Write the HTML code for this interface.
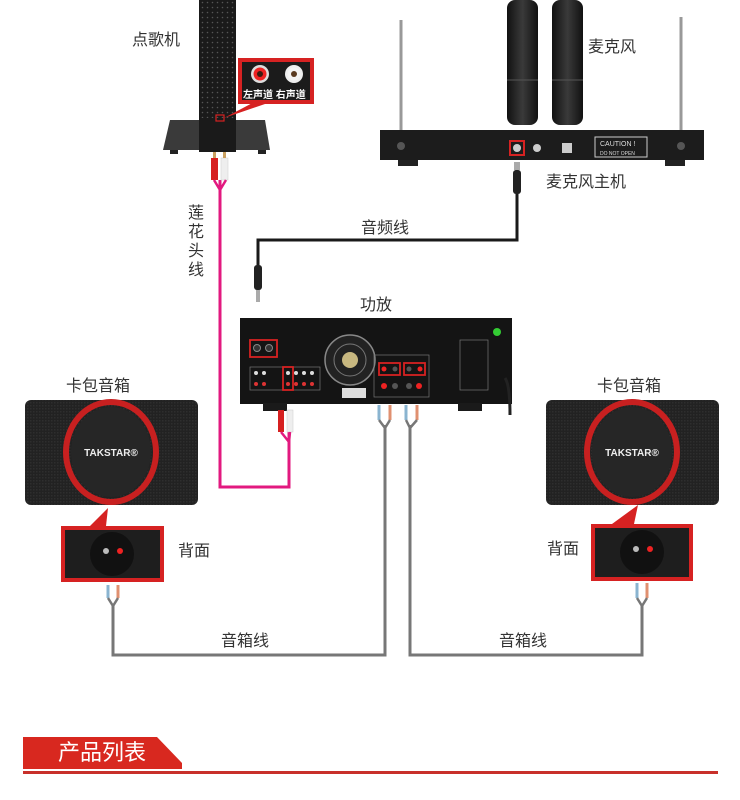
<!DOCTYPE html>
<html><head><meta charset="utf-8"><style>
html,body{margin:0;padding:0;background:#fff;}
svg{display:block;}
text{font-family:"Liberation Sans","Noto Sans CJK SC",sans-serif;}
</style></head><body>
<svg width="740" height="800" viewBox="0 0 740 800" xmlns="http://www.w3.org/2000/svg">
<defs>
<pattern id="dots" width="5" height="5" patternUnits="userSpaceOnUse"><rect width="5" height="5" fill="#1a1a1a"/><circle cx="2.5" cy="2.5" r="0.8" fill="#555"/></pattern>
<pattern id="mesh" width="3" height="3" patternUnits="userSpaceOnUse"><rect width="3" height="3" fill="#222"/><rect width="1.5" height="1.5" fill="#2e2e2e"/></pattern>
<linearGradient id="mic" x1="0" x2="1"><stop offset="0" stop-color="#111"/><stop offset="0.5" stop-color="#3a3a3a"/><stop offset="1" stop-color="#111"/></linearGradient>
</defs>

<!-- karaoke tower -->
<text x="132" y="45" font-size="16" fill="#333">点歌机</text>
<rect x="199" y="0" width="37" height="150" fill="url(#dots)"/>
<polygon points="170,120 265,120 270,150 163,150" fill="#3a3a3a"/>
<rect x="199" y="118" width="37" height="34" fill="#1a1a1a"/>
<rect x="170" y="150" width="8" height="4" fill="#222"/><rect x="258" y="150" width="8" height="4" fill="#222"/>
<rect x="216" y="115" width="8" height="6" fill="none" stroke="#d62222" stroke-width="1.2"/>
<polygon points="224,118 258,100 265,104" fill="#d62222"/>
<rect x="238" y="58" width="76" height="46" fill="#d62222"/>
<rect x="242" y="62" width="68" height="38" fill="#1b1b1b"/>
<circle cx="260" cy="74" r="9" fill="#ddd"/><circle cx="260" cy="74" r="6.5" fill="#e22"/><circle cx="260" cy="74" r="3" fill="#3a1a10"/>
<circle cx="294" cy="74" r="9" fill="#eee"/><circle cx="294" cy="74" r="6.5" fill="#f4f4f4"/><circle cx="294" cy="74" r="3" fill="#5a3a20"/>
<text x="243" y="98" font-size="10" fill="#fff" font-weight="bold">左声道 右声道</text>

<!-- pink cable -->
<polyline points="220,180 220,487 289,487 289,420" fill="none" stroke="#e2197f" stroke-width="3"/>
<rect x="211" y="158" width="7" height="22" fill="#d62020"/><rect x="221" y="158" width="7" height="22" fill="#eee" stroke="#ccc" stroke-width="0.5"/>
<rect x="213" y="152" width="3" height="6" fill="#c9a060"/><rect x="223" y="152" width="3" height="6" fill="#c9a060"/>
<path d="M214,180 L220,190 L226,180" fill="none" stroke="#e2197f" stroke-width="2.5"/>
<text font-size="16" fill="#333"><tspan x="188" y="218">莲</tspan><tspan x="188" y="237">花</tspan><tspan x="188" y="256">头</tspan><tspan x="188" y="275">线</tspan></text>

<!-- microphones -->
<rect x="507" y="0" width="31" height="125" rx="8" fill="url(#mic)"/>
<rect x="552" y="0" width="31" height="125" rx="8" fill="url(#mic)"/>
<line x1="507" y1="80" x2="538" y2="80" stroke="#555"/><line x1="552" y1="80" x2="583" y2="80" stroke="#555"/>
<text x="588" y="52" font-size="16" fill="#333">麦克风</text>
<!-- receiver -->
<line x1="401" y1="20" x2="401" y2="145" stroke="#999" stroke-width="3"/>
<line x1="681" y1="17" x2="681" y2="145" stroke="#999" stroke-width="3"/>
<rect x="380" y="130" width="324" height="30" fill="#1c1c1c"/>
<rect x="398" y="160" width="20" height="6" fill="#222"/><rect x="665" y="160" width="20" height="6" fill="#222"/>
<circle cx="401" cy="146" r="4" fill="#555"/><circle cx="681" cy="146" r="4" fill="#555"/>
<rect x="510" y="141" width="14" height="14" fill="none" stroke="#d62222" stroke-width="2"/>
<circle cx="517" cy="148" r="4" fill="#ccc"/><circle cx="537" cy="148" r="4" fill="#ccc"/>
<rect x="562" y="143" width="10" height="10" fill="#ccc"/>
<rect x="595" y="137" width="52" height="20" fill="none" stroke="#ccc" stroke-width="1"/>
<text x="600" y="146" font-size="7" fill="#ddd">CAUTION !</text>
<text x="600" y="155" font-size="5" fill="#ddd">DO NOT OPEN</text>
<text x="546" y="187" font-size="16" fill="#333">麦克风主机</text>

<!-- audio cable -->
<polyline points="517,165 517,240 258,240 258,295" fill="none" stroke="#1a1a1a" stroke-width="3"/>
<rect x="514" y="162" width="6" height="8" fill="#aaa"/><rect x="513" y="170" width="8" height="24" rx="3" fill="#222"/>
<rect x="254" y="265" width="8" height="25" rx="3" fill="#222"/><rect x="256" y="290" width="4" height="12" fill="#aaa"/>
<text x="361" y="233" font-size="16" fill="#333">音频线</text>

<!-- amplifier -->
<text x="360" y="310" font-size="16" fill="#333">功放</text>
<rect x="240" y="318" width="272" height="86" fill="#141414"/>
<rect x="263" y="403" width="24" height="8" fill="#1a1a1a"/><rect x="458" y="403" width="24" height="8" fill="#1a1a1a"/>
<rect x="250" y="340" width="27" height="17" fill="none" stroke="#d62222" stroke-width="1.8"/>
<circle cx="257" cy="348" r="3.5" fill="#333" stroke="#888"/><circle cx="269" cy="348" r="3.5" fill="#333" stroke="#888"/>
<rect x="250" y="367" width="70" height="23" fill="none" stroke="#777" stroke-width="0.7"/>
<g fill="#ddd"><circle cx="256" cy="373" r="2"/><circle cx="264" cy="373" r="2"/><circle cx="288" cy="373" r="2"/><circle cx="296" cy="373" r="2"/><circle cx="304" cy="373" r="2"/><circle cx="312" cy="373" r="2"/></g>
<g fill="#d33"><circle cx="256" cy="384" r="2"/><circle cx="264" cy="384" r="2"/><circle cx="288" cy="384" r="2"/><circle cx="296" cy="384" r="2"/><circle cx="304" cy="384" r="2"/><circle cx="312" cy="384" r="2"/></g>
<rect x="283" y="367" width="10" height="23" fill="none" stroke="#d62222" stroke-width="1.8"/>
<circle cx="350" cy="360" r="25" fill="#222" stroke="#888" stroke-width="1.5"/>
<circle cx="350" cy="360" r="16" fill="none" stroke="#777"/><circle cx="350" cy="360" r="8" fill="#c8b880"/>
<rect x="374" y="355" width="55" height="42" fill="none" stroke="#777" stroke-width="0.7"/>
<rect x="379" y="363" width="21" height="12" fill="none" stroke="#d62222" stroke-width="1.8"/>
<rect x="404" y="363" width="21" height="12" fill="none" stroke="#d62222" stroke-width="1.8"/>
<g fill="#e22"><circle cx="384" cy="369" r="2.5"/><circle cx="420" cy="369" r="2.5"/><circle cx="384" cy="386" r="3"/><circle cx="419" cy="386" r="3"/></g>
<g fill="#555"><circle cx="395" cy="369" r="2.5"/><circle cx="409" cy="369" r="2.5"/><circle cx="395" cy="386" r="3"/><circle cx="409" cy="386" r="3"/></g>
<rect x="342" y="388" width="24" height="10" fill="#ddd"/>
<rect x="460" y="340" width="28" height="50" fill="none" stroke="#777" stroke-width="0.7"/>
<circle cx="497" cy="332" r="4" fill="#3c3"/>
<path d="M505,378 Q510,385 510,415" fill="none" stroke="#222" stroke-width="3"/>
<!-- amp RCA plugs -->
<rect x="278" y="410" width="6" height="22" fill="#d62020"/><rect x="287" y="410" width="6" height="22" fill="#eee" stroke="#ccc" stroke-width="0.5"/>
<path d="M281,432 L289,442 L290,432" fill="none" stroke="#e2197f" stroke-width="2.5"/>

<!-- speaker wires -->
<g fill="none" stroke="#777" stroke-width="3">
<polyline points="113,605 113,655 385,655 385,425"/>
<polyline points="410,425 410,655 642,655 642,605"/>
</g>
<g stroke-width="3">
<line x1="379" y1="405" x2="379" y2="420" stroke="#8ab4d0"/><line x1="390" y1="405" x2="390" y2="420" stroke="#e09070"/>
<line x1="406" y1="405" x2="406" y2="420" stroke="#8ab4d0"/><line x1="417" y1="405" x2="417" y2="420" stroke="#e09070"/>
<line x1="108" y1="585" x2="108" y2="598" stroke="#8ab4d0"/><line x1="118" y1="585" x2="118" y2="598" stroke="#e09070"/>
<line x1="637" y1="583" x2="637" y2="598" stroke="#8ab4d0"/><line x1="647" y1="583" x2="647" y2="598" stroke="#e09070"/>
</g>
<g fill="none" stroke="#777" stroke-width="2.5">
<path d="M379,420 L385,428 L390,420"/><path d="M406,420 L410,428 L417,420"/>
<path d="M108,598 L113,606 L118,598"/><path d="M637,598 L642,606 L647,598"/>
</g>
<text x="221" y="646" font-size="16" fill="#333">音箱线</text>
<text x="499" y="646" font-size="16" fill="#333">音箱线</text>

<!-- speakers -->
<g>
<text x="66" y="391" font-size="16" fill="#333">卡包音箱</text>
<rect x="25" y="400" width="173" height="105" rx="6" fill="url(#mesh)"/>
<ellipse cx="111" cy="452" rx="45" ry="50" fill="none" stroke="#c82020" stroke-width="6"/>
<ellipse cx="111" cy="452" rx="40" ry="45" fill="#262626"/>
<text x="111" y="456" font-size="10" font-weight="bold" fill="#eee" text-anchor="middle">TAKSTAR®</text>
<polygon points="90,526 108,508 106,526" fill="#d62222"/>
<rect x="61" y="526" width="103" height="56" fill="#d62222"/>
<rect x="65" y="530" width="95" height="48" fill="#1e1e1e"/>
<circle cx="112" cy="554" r="22" fill="#111"/>
<circle cx="106" cy="551" r="3" fill="#bbb"/><circle cx="120" cy="551" r="3" fill="#e22"/>
<text x="178" y="556" font-size="16" fill="#333">背面</text>
</g>
<g>
<text x="597" y="391" font-size="16" fill="#333">卡包音箱</text>
<rect x="546" y="400" width="173" height="105" rx="6" fill="url(#mesh)"/>
<ellipse cx="632" cy="452" rx="45" ry="50" fill="none" stroke="#c82020" stroke-width="6"/>
<ellipse cx="632" cy="452" rx="40" ry="45" fill="#262626"/>
<text x="632" y="456" font-size="10" font-weight="bold" fill="#eee" text-anchor="middle">TAKSTAR®</text>
<polygon points="612,524 638,505 634,524" fill="#d62222"/>
<rect x="591" y="524" width="102" height="57" fill="#d62222"/>
<rect x="595" y="528" width="94" height="49" fill="#1e1e1e"/>
<circle cx="642" cy="552" r="22" fill="#111"/>
<circle cx="636" cy="549" r="3" fill="#bbb"/><circle cx="650" cy="549" r="3" fill="#e22"/>
<text x="547" y="554" font-size="16" fill="#333">背面</text>
</g>

<!-- bottom banner -->
<polygon points="23,737 157,737 182,763 182,769 23,769" fill="#d8281f"/>
<text x="58" y="760" font-size="22" fill="#fff">产品列表</text>
<rect x="23" y="771" width="695" height="3" fill="#c8302a"/>
</svg>
</body></html>
